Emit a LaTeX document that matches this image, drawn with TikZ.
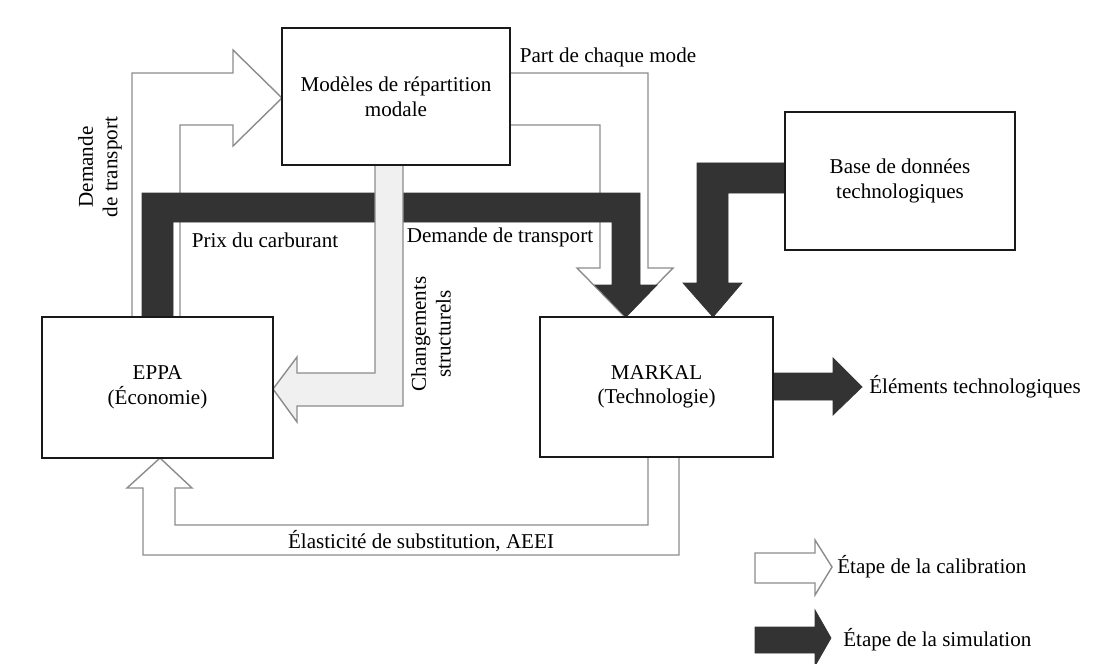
\documentclass[tikz,border=0pt]{standalone}
\usepackage{fontspec}
\setmainfont{Liberation Serif}
\usepackage{tikz}
\usetikzlibrary{positioning}

\begin{document}
\begin{tikzpicture}[x=0.025cm,y=-0.025cm,
                    every node/.style={font=\fontsize{15}{17.5}\selectfont},
                    box node/.style={draw=black!90,line width=1.8pt,fill=white,align=center,inner sep=0pt},
                    label node/.style={inner sep=0pt,align=center},
                    calib/.style={draw=black!45,line width=1pt,fill=white,line join=miter},
                    simu/.style={draw=black!80,fill=black!80,line width=0.5pt,line join=miter}]

  \useasboundingbox (0,0) rectangle (1109,663);

  \filldraw[calib] (132,317) -- (132,73) -- (233,73) -- (233,50) -- (282,98) -- (233,146) -- (233,125) -- (180,125) -- (180,317);
  \filldraw[calib] (510,73) -- (648,73) -- (648,268) -- (673,268) -- (625,317) -- (577,268) -- (600,268) -- (600,125) -- (510,125);

  \filldraw[simu] (142,317) -- (142,193) -- (640,193) -- (640,285) -- (657,285) -- (626,317) -- (595,285)
                  -- (612,285) -- (612,222) -- (173,222) -- (173,317) -- cycle;
  \filldraw[simu] (785,163) -- (697,163) -- (697,283) -- (683,283) -- (713,317) -- (742,283) -- (728,283) -- (728,193) -- (785,193) -- cycle;

  \filldraw[calib,fill=black!6] (375,165) -- (375,373) -- (297,373) -- (297,357) -- (273,389) -- (297,422) -- (297,406) -- (403,406) -- (403,165);
  \filldraw[calib] (648,457) -- (648,525) -- (175,525) -- (175,488) -- (192,488) -- (160,458) -- (127,488) -- (143,488) -- (143,555) -- (679,555) -- (679,457);
  \filldraw[simu] (773,373) -- (833,373) -- (833,358) -- (862,387) -- (833,415) -- (833,400) -- (773,400) -- cycle;

  \filldraw[calib] (755,553) -- (815,553) -- (815,540) -- (832,567) -- (815,595) -- (815,583) -- (755,583) -- cycle;
  \filldraw[simu] (755,627) -- (815,627) -- (815,610) -- (831,638) -- (815,666) -- (815,653) -- (755,653) -- cycle;

  \node[box node,minimum width=5.7cm,minimum height=3.43cm] (mod) at (396,96.5) {Modèles de répartition\\modale};
  \node[box node,minimum width=5.78cm,minimum height=3.53cm] (eppa) at (157.5,387.5) {EPPA\\(Économie)};
  \node[box node,minimum width=5.83cm,minimum height=3.5cm] (markal) at (656.5,387) {MARKAL\\(Technologie)};
  \node[box node,minimum width=5.75cm,minimum height=3.45cm] (base) at (900,181) {Base de données\\technologiques};

  \node[label node] (part) at (608,57) {Part de chaque mode};
  \node[label node,rotate=90] (demv) at (100,167) {Demande\\de transport};
  \node[label node] (prix) at (265,240) {Prix du carburant};
  \node[label node] (demh) at (500,237) {Demande de transport};
  \node[label node,rotate=90] (chg) at (431,334) {Changements\\structurels};
  \node[label node] (elas) at (421,541) {Élasticité de substitution, AEEI};
  \node[label node,anchor=west] (elem) at (869,387) {Éléments technologiques};
  \node[label node,anchor=west] (lcal) at (837,567) {Étape de la calibration};
  \node[label node,anchor=west] (lsim) at (843,640) {Étape de la simulation};
\end{tikzpicture}
\end{document}
